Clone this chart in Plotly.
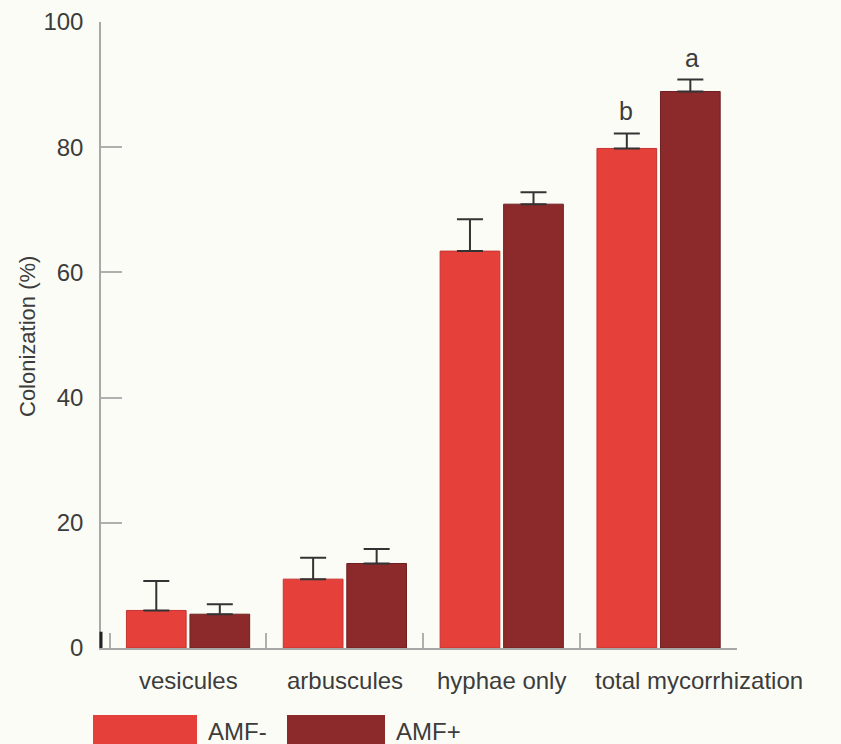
import plotly.graph_objects as go

# Mycorrhizal colonization by structure type
categories = ["vesicules", "arbuscules", "hyphae only", "total mycorrhization"]
amf_minus = [6.0, 11.0, 63.4, 79.8]
amf_minus_err = [4.7, 3.4, 5.1, 2.4]
amf_plus = [5.4, 13.5, 70.9, 88.9]
amf_plus_err = [1.6, 2.3, 1.9, 1.9]
series_names = ["AMF-", "AMF+"]
sig_letters_minus = ["", "", "", "b"]
sig_letters_plus = ["", "", "", "a"]
y_ticks = [0, 20, 40, 60, 80, 100]
y_title = "Colonization (%)"

COL_MINUS = "#e6403a"
COL_PLUS = "#8c2a2b"
FONT = "Liberation Sans, Arial, sans-serif"
TXT = "#3c3c3c"

fig = go.Figure()
for name, vals, errs, col, edge in [
    (series_names[0], amf_minus, amf_minus_err, COL_MINUS, "#c23430"),
    (series_names[1], amf_plus, amf_plus_err, COL_PLUS, "#6e2021"),
]:
    fig.add_trace(go.Bar(
        x=categories, y=vals, name=name,
        marker=dict(color=col, line=dict(color=edge, width=1)),
        error_y=dict(type="data", array=errs, arrayminus=[0] * len(errs),
                     symmetric=False, color="#333333", thickness=2, width=13),
        showlegend=False,
    ))

# significance letters above error bars
for letters, vals, errs, shift in [
    (sig_letters_minus, amf_minus, amf_minus_err, -33),
    (sig_letters_plus, amf_plus, amf_plus_err, 33),
]:
    for c, t, v, e in zip(categories, letters, vals, errs):
        if t:
            fig.add_annotation(x=c, y=v + e, text=t, showarrow=False,
                               xshift=shift, yshift=6, yanchor="bottom",
                               font=dict(family=FONT, size=25, color=TXT))

# category labels under the axis (the long last label sits shifted right)
for i, c in enumerate(categories):
    fig.add_annotation(x=c, y=0, yref="y", text=c, showarrow=False,
                       yanchor="middle", yshift=-32,
                       xshift=40 if i == len(categories) - 1 else 0,
                       font=dict(family=FONT, size=24, color=TXT))

# legend drawn as large swatches below the axis
PL, PW, PB, PH = 101, 636, 648, 626
legend_items = [(series_names[0], COL_MINUS, 93, 197), (series_names[1], COL_PLUS, 287, 385)]
for name, col, x0, x1 in legend_items:
    fig.add_shape(type="rect", xref="paper", yref="paper",
                  x0=(x0 - PL) / PW, x1=(x1 - PL) / PW,
                  y0=-(715 - PB) / PH, y1=-(760 - PB) / PH,
                  fillcolor=col, line=dict(width=0), layer="above")
    fig.add_annotation(xref="paper", yref="paper",
                       x=(x1 + 9 - PL) / PW, y=-(731 - PB) / PH,
                       text=name, showarrow=False, xanchor="left", yanchor="middle",
                       font=dict(family=FONT, size=24, color=TXT))

# y axis title
fig.add_annotation(xref="paper", yref="paper", x=(28 - PL) / PW, y=(PB - 337) / PH,
                   text=y_title, textangle=-90, showarrow=False,
                   xanchor="center", yanchor="middle",
                   font=dict(family=FONT, size=22, color=TXT))

# small dark mark at the origin of the x axis
fig.add_shape(type="line", xref="x domain", yref="y", x0=0.0, x1=0.0, y0=0, y1=2.6,
              line=dict(color="#222222", width=3))

fig.update_layout(
    width=841, height=744,
    margin=dict(l=101, r=104, t=22, b=96),
    paper_bgcolor="#fcfcf7", plot_bgcolor="#fcfcf7",
    barmode="group", bargap=0.19, bargroupgap=0.06,
    font=dict(family=FONT, color=TXT),
)
fig.update_xaxes(
    range=[-0.555, 3.5], showline=True, linecolor="#a8a8a8", linewidth=1.5,
    tickson="boundaries", ticks="inside", ticklen=15, tickcolor="#b0b0b0", tickwidth=1.5,
    showticklabels=False, automargin=False, showgrid=False, zeroline=False,
)
fig.update_yaxes(
    range=[0, 100], tickvals=y_ticks, showline=True, linecolor="#a8a8a8", linewidth=1.5,
    ticks="inside", ticklen=21, tickcolor="#b0b0b0", tickwidth=1.5,
    automargin=False, ticklabelstandoff=11,
    tickfont=dict(family=FONT, size=24, color=TXT), showgrid=False, zeroline=False,
)

fig.write_html("out.html")
